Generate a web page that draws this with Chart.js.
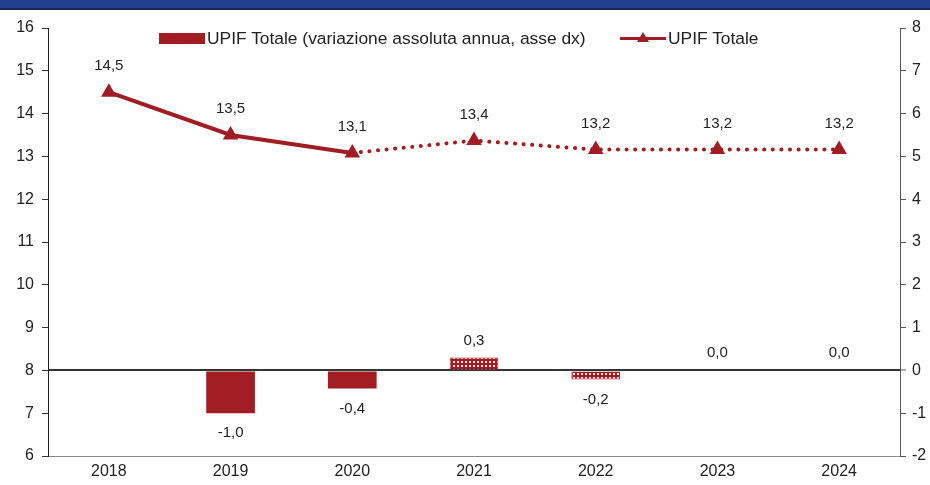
<!DOCTYPE html>
<html>
<head>
<meta charset="utf-8">
<script src="https://cdn.jsdelivr.net/npm/chart.js"></script>
<style>
  html, body { margin: 0; padding: 0; background: #fff; }
  #wrap { position: relative; width: 930px; height: 485px; overflow: hidden; }
  #band { position: absolute; left: 0; top: 0; width: 930px; height: 8px; background: #22408b; border-bottom: 2px solid #1a2555; }
  #legend { position: absolute; top: 28px; left: 0; width: 930px; font-family: "Liberation Sans", Arial, sans-serif; font-size: 17.4px; color: #222; }
  #legend .item { position: absolute; top: 0; display: flex; align-items: center; white-space: nowrap; }
  #legend .box { width: 46px; height: 11px; background: #a11d22; margin-right: 2px; }
  #legend .ln { position: relative; width: 46px; height: 11px; margin-right: 2px; }
  #legend .ln:before { content: ""; position: absolute; left: 0; right: 0; top: 4px; height: 3px; background: #a11d22; }
  #legend .ln:after { content: ""; position: absolute; left: 17px; top: -1px; border-left: 6px solid transparent; border-right: 6px solid transparent; border-bottom: 10px solid #a11d22; }
</style>
</head>
<body>
<div id="wrap">
  <canvas id="chart" width="930" height="485"></canvas>
  <div id="band"></div>
  <div id="legend">
    <div class="item" style="left:159px"><div class="box"></div><span>UPIF Totale (variazione assoluta annua, asse dx)</span></div>
    <div class="item" style="left:620px"><div class="ln"></div><span>UPIF Totale</span></div>
  </div>
</div>
<script>
// dati
const anni = ['2018', '2019', '2020', '2021', '2022', '2023', '2024'];
const upifTotale = [14.5, 13.5, 13.08, 13.37, 13.16, 13.16, 13.16];
const upifTotaleLabels = ['14,5', '13,5', '13,1', '13,4', '13,2', '13,2', '13,2'];
const variazione = [null, -1.0, -0.42, 0.3, -0.21, 0.0, 0.02];
const variazioneLabels = ['', '-1,0', '-0,4', '0,3', '-0,2', '0,0', '0,0'];
const ticksSx = [6, 7, 8, 9, 10, 11, 12, 13, 14, 15, 16];
const ticksDx = [-2, -1, 0, 1, 2, 3, 4, 5, 6, 7, 8];
const primoStimato = 3; // da qui in poi le barre sono tratteggiate

const ROSSO = '#a11d22';
const FONT = "'Liberation Sans', Arial, sans-serif";

function makePattern() {
    const c = document.createElement('canvas');
    c.width = 4; c.height = 4;
    const g = c.getContext('2d');
    g.fillStyle = ROSSO;
    g.fillRect(0, 0, 4, 4);
    g.fillStyle = '#f6e3e4';
    g.fillRect(1, 1, 2, 2);
    return g.createPattern(c, 'repeat');
}
const pattern = makePattern();

const etichette = {
    id: 'etichette',
    afterDatasetsDraw(chart) {
        const ctx = chart.ctx;
        ctx.save();
        ctx.font = '15px ' + FONT;
        ctx.fillStyle = '#222';
        ctx.textAlign = 'center';
        ctx.textBaseline = 'middle';
        chart.getDatasetMeta(1).data.forEach((p, i) => {
            ctx.fillText(upifTotaleLabels[i], p.x, p.y - 26);
        });
        const zero = chart.scales.y1.getPixelForValue(0);
        chart.getDatasetMeta(0).data.forEach((b, i) => {
            if (variazione[i] === null) return;
            const v = variazione[i];
            let y;
            if (v < -0.05) y = b.y + 20;
            else if (v > 0.05) y = b.y - 17;
            else y = zero - 18;
            ctx.fillText(variazioneLabels[i], b.x, y);
        });
        ctx.restore();
    }
};

new Chart(document.getElementById('chart').getContext('2d'), {
    type: 'bar',
    data: {
        labels: anni,
        datasets: [{
            type: 'bar',
            label: 'UPIF Totale (variazione assoluta annua, asse dx)',
            data: variazione,
            yAxisID: 'y1',
            backgroundColor: variazione.map((v, i) => i >= primoStimato ? pattern : ROSSO),
            borderColor: ROSSO,
            borderWidth: variazione.map((v, i) => i >= primoStimato ? 1 : 0),
            barPercentage: 0.4,
            categoryPercentage: 1,
            order: 2
        }, {
            type: 'line',
            label: 'UPIF Totale',
            data: upifTotale,
            yAxisID: 'y',
            borderColor: ROSSO,
            backgroundColor: ROSSO,
            borderWidth: 4,
            pointStyle: 'triangle',
            pointRadius: 9,
            pointBorderWidth: 0,
            tension: 0,
            segment: {
                borderDash: ctx => ctx.p0DataIndex >= 2 ? [0.1, 8.5] : undefined,
                borderCapStyle: ctx => ctx.p0DataIndex >= 2 ? 'round' : 'butt'
            },
            order: 1
        }]
    },
    options: {
        responsive: false,
        animation: false,
        layout: { padding: { top: 28, left: 0, right: 0, bottom: 0 } },
        plugins: { legend: { display: false }, tooltip: { enabled: false } },
        scales: {
            x: {
                grid: { display: false, drawTicks: false },
                border: { display: true, color: '#888', width: 1 },
                ticks: { color: '#222', font: { family: FONT, size: 16 }, padding: 6 },
                afterFit(s) { s.height = 29; }
            },
            y: {
                position: 'left',
                min: 6, max: 16,
                afterBuildTicks(s) { s.ticks = ticksSx.map(v => ({ value: v })); },
                grid: { drawOnChartArea: false, drawTicks: true, tickLength: 6, color: '#333' },
                border: { display: true, color: '#222', width: 1 },
                ticks: { color: '#222', font: { family: FONT, size: 16 }, padding: 8 },
                afterFit(s) { s.width = 48; }
            },
            y1: {
                position: 'right',
                min: -2, max: 8,
                afterBuildTicks(s) { s.ticks = ticksDx.map(v => ({ value: v })); },
                grid: {
                    drawOnChartArea: true, drawTicks: true, tickLength: 6,
                    color: ctx => ctx.tick && ctx.tick.value === 0 ? '#333' : 'rgba(0,0,0,0)',
                    lineWidth: ctx => ctx.tick && ctx.tick.value === 0 ? 2 : 1,
                    tickColor: '#555', tickWidth: 1
                },
                border: { display: true, color: '#555', width: 1 },
                ticks: { color: '#222', font: { family: FONT, size: 16 }, padding: 6 },
                afterFit(s) { s.width = 30; }
            }
        }
    },
    plugins: [etichette]
});
</script>
</body>
</html>
